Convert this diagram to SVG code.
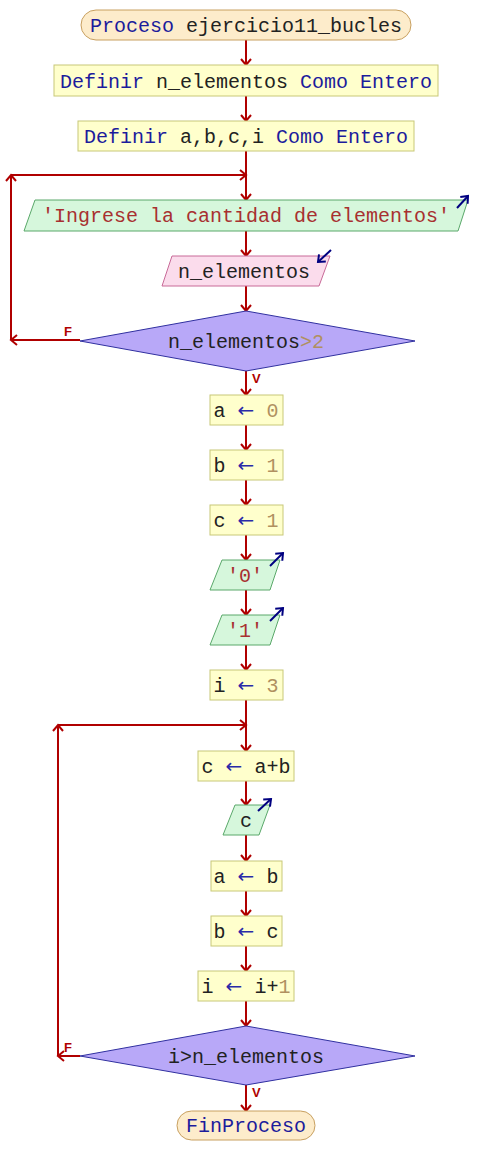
<svg xmlns="http://www.w3.org/2000/svg" width="492" height="1175" viewBox="0 0 492 1175">
<style>
.t{font-family:"Liberation Mono","DejaVu Sans Mono",monospace;font-size:20px;fill:#222;text-anchor:middle}
.kw{fill:#1c1c9c}
.op{fill:#2a2aa8;font-family:"DejaVu Sans",sans-serif}
.num{fill:#b09060}
.str{fill:#a83030}
.term{fill:#fdeccb;stroke:#c8a060;stroke-width:1}
.proc{fill:#ffffcc;stroke:#c8c878;stroke-width:1}
.out{fill:#d6f7dc;stroke:#5aa86a;stroke-width:1}
.inp{fill:#fbdcec;stroke:#c86a98;stroke-width:1}
.dec{fill:#b8a8f8;stroke:#3030a0;stroke-width:1}
.c{fill:none;stroke:#b00000;stroke-width:2;marker-end:url(#ah)}
.io{fill:none;stroke:#000080;stroke-width:2;marker-end:url(#bh)}
.lbl{font-family:"Liberation Sans",Arial,sans-serif;font-size:13px;font-weight:bold;fill:#b00000}
</style>
<defs>
<marker id="ah" markerWidth="12" markerHeight="12" refX="10" refY="6" orient="auto" markerUnits="userSpaceOnUse"><path d="M4,1 L10,6 L4,11" fill="none" stroke="#b00000" stroke-width="2"/></marker>
<marker id="bh" markerWidth="12" markerHeight="12" refX="10" refY="6" orient="auto" markerUnits="userSpaceOnUse"><path d="M4,1 L10,6 L4,11" fill="none" stroke="#000080" stroke-width="2"/></marker>
</defs>
<rect width="492" height="1175" fill="#fff"/>
<g id="connectors">
<path class="c" d="M246,40 V65"/>
<path class="c" d="M246,96 V121"/>
<path class="c" d="M246,151 V200"/>
<path class="c" d="M80,340 H11"/>
<path class="c" d="M11,340 V175"/>
<path class="c" d="M11,175 H246"/>
<path class="c" d="M246,231 V256"/>
<path class="c" d="M246,286 V311"/>
<path class="c" d="M246,371 V395"/>
<path class="c" d="M246,425 V450"/>
<path class="c" d="M246,480 V505"/>
<path class="c" d="M246,535 V560"/>
<path class="c" d="M246,590 V615"/>
<path class="c" d="M246,645 V670"/>
<path class="c" d="M246,700 V751"/>
<path class="c" d="M246,781 V805"/>
<path class="c" d="M246,835 V861"/>
<path class="c" d="M246,891 V916"/>
<path class="c" d="M246,946 V971"/>
<path class="c" d="M246,1001 V1026"/>
<path class="c" d="M246,1085 V1111"/>
<path class="c" d="M80,1056 H58"/>
<path class="c" d="M58,1056 V725"/>
<path class="c" d="M58,725 H246"/>
<text class="lbl" x="64" y="336">F</text>
<text class="lbl" x="252" y="383">V</text>
<text class="lbl" x="64" y="1052">F</text>
<text class="lbl" x="252" y="1097">V</text>
</g>
<g id="inicio">
<rect class="term" x="81" y="10" width="330" height="30" rx="15"/>
<text class="t" x="246" y="32"><tspan class="kw">Proceso</tspan> ejercicio11_bucles</text>
</g>
<g id="def1">
<rect class="proc" x="54" y="65" width="384" height="31"/>
<text class="t" x="246" y="88"><tspan class="kw">Definir</tspan> n_elementos <tspan class="kw">Como Entero</tspan></text>
</g>
<g id="def2">
<rect class="proc" x="78" y="121" width="336" height="30"/>
<text class="t" x="246" y="143"><tspan class="kw">Definir</tspan> a,b,c,i <tspan class="kw">Como Entero</tspan></text>
</g>
<g id="esc1">
<polygon class="out" points="35,200 468,200 458,231 24,231"/>
<text class="t str" x="246" y="222">'Ingrese la cantidad de elementos'</text>
<path class="io" d="M457,208 L468,196"/>
</g>
<g id="leer1">
<polygon class="inp" points="172,256 330,256 319,286 162,286"/>
<text class="t" x="244" y="278">n_elementos</text>
<path class="io" d="M331,250 L318,262"/>
</g>
<g id="cond1">
<polygon class="dec" points="246,311 415,341 246,371 80,341"/>
<text class="t" x="246" y="348">n_elementos<tspan class="num">&gt;2</tspan></text>
</g>
<g id="asig_a">
<rect class="proc" x="210" y="395" width="73" height="30"/>
<text class="t" x="246" y="417">a <tspan class="op">←</tspan> <tspan class="num">0</tspan></text>
</g>
<g id="asig_b">
<rect class="proc" x="210" y="450" width="73" height="30"/>
<text class="t" x="246" y="472">b <tspan class="op">←</tspan> <tspan class="num">1</tspan></text>
</g>
<g id="asig_c">
<rect class="proc" x="210" y="505" width="73" height="30"/>
<text class="t" x="246" y="527">c <tspan class="op">←</tspan> <tspan class="num">1</tspan></text>
</g>
<g id="esc0">
<polygon class="out" points="222,560 280,560 270,590 210,590"/>
<text class="t str" x="245" y="582">'0'</text>
<path class="io" d="M270,566 L283,553"/>
</g>
<g id="esc1b">
<polygon class="out" points="222,615 280,615 270,645 210,645"/>
<text class="t str" x="245" y="637">'1'</text>
<path class="io" d="M270,621 L283,608"/>
</g>
<g id="asig_i">
<rect class="proc" x="210" y="670" width="73" height="30"/>
<text class="t" x="246" y="692">i <tspan class="op">←</tspan> <tspan class="num">3</tspan></text>
</g>
<g id="suma">
<rect class="proc" x="198" y="751" width="96" height="30"/>
<text class="t" x="246" y="773">c <tspan class="op">←</tspan> a+b</text>
</g>
<g id="escc">
<polygon class="out" points="235,805 270,805 259,835 223,835"/>
<text class="t" x="246" y="827">c</text>
<path class="io" d="M258,811 L271,799"/>
</g>
<g id="asig_ab">
<rect class="proc" x="211" y="861" width="71" height="30"/>
<text class="t" x="246" y="883">a <tspan class="op">←</tspan> b</text>
</g>
<g id="asig_bc">
<rect class="proc" x="211" y="916" width="71" height="30"/>
<text class="t" x="246" y="938">b <tspan class="op">←</tspan> c</text>
</g>
<g id="inc">
<rect class="proc" x="198" y="971" width="96" height="30"/>
<text class="t" x="246" y="993">i <tspan class="op">←</tspan> i+<tspan class="num">1</tspan></text>
</g>
<g id="cond2">
<polygon class="dec" points="246,1026 415,1056 246,1085 80,1056"/>
<text class="t" x="246" y="1063">i&gt;n_elementos</text>
</g>
<g id="fin">
<rect class="term" x="177" y="1111" width="138" height="29" rx="14.5"/>
<text class="t kw" x="246" y="1132">FinProceso</text>
</g>
</svg>
